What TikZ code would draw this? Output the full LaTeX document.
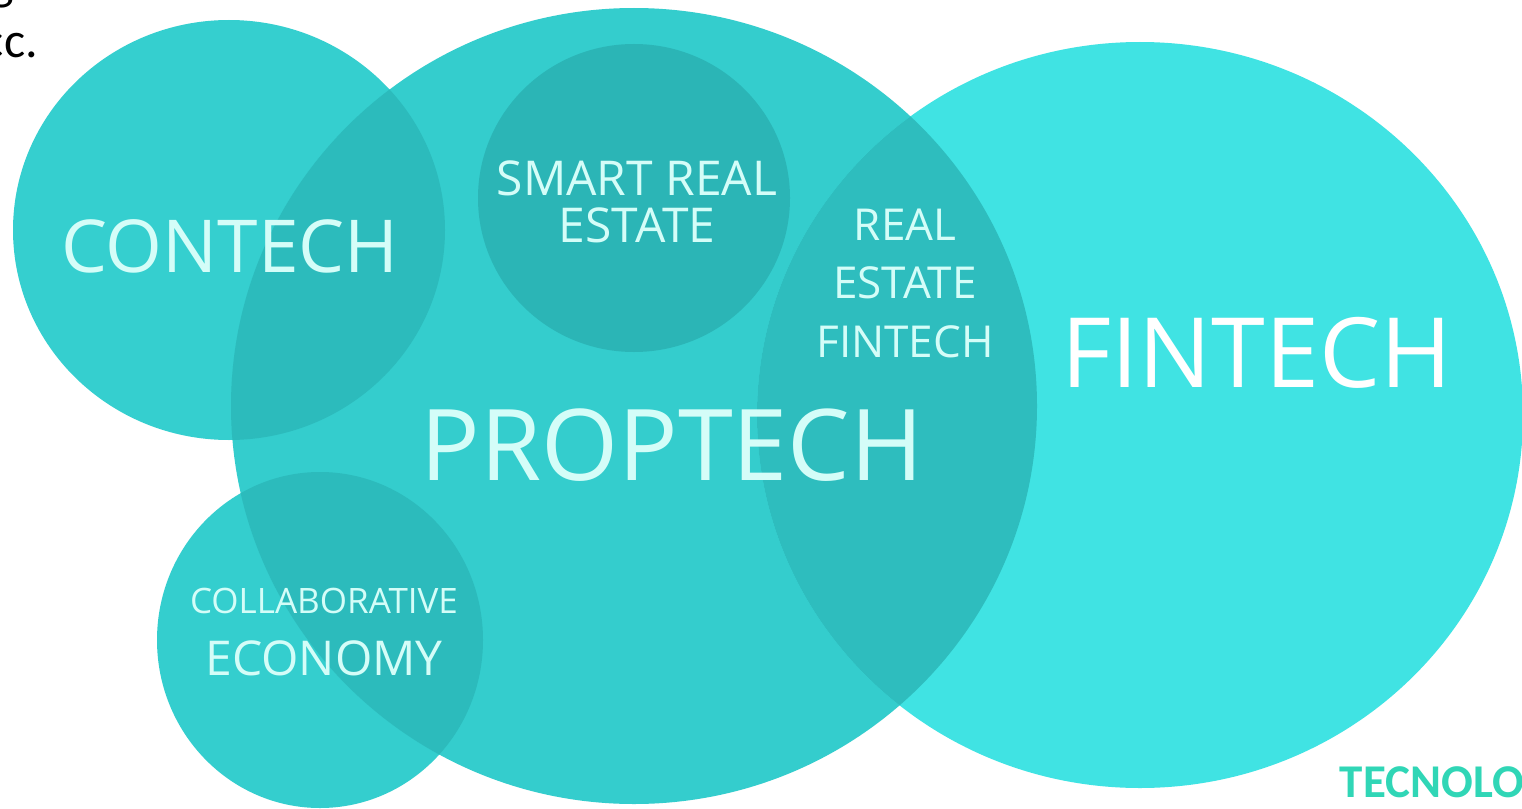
\documentclass[tikz,border=0pt]{standalone}
\usepackage{fontspec}
\setmainfont{Open Sans}
\newfontfamily\calibfont{Carlito}
\definecolor{contechc}{HTML}{35CFCF}
\definecolor{propc}{HTML}{34CDCD}
\definecolor{collabc}{HTML}{34CECE}
\definecolor{finc}{HTML}{40E3E3}
\definecolor{overc}{HTML}{2CBBBC}
\definecolor{overf}{HTML}{2EBDBE}
\definecolor{smartc}{HTML}{2BB5B6}
\definecolor{labelc}{HTML}{D4FDF8}
\definecolor{tecc}{HTML}{30D6B6}
\tikzset{
  lbl/.style={text=labelc, inner sep=0pt, anchor=base},
  blacktxt/.style={text=black, inner sep=0pt, anchor=base east, font=\calibfont\fontsize{50}{60}\selectfont}
}
\begin{document}
\begin{tikzpicture}[x=1pt,y=-1pt]
\useasboundingbox (0,0) rectangle (1522,808);
\fill[white] (0,0) rectangle (1522,808);
% base circles
\fill[contechc] (229,230) ellipse [x radius=216, y radius=210];
\fill[collabc] (320,640) ellipse [x radius=163, y radius=168];
\fill[propc] (634,406) ellipse [x radius=403, y radius=398];
\fill[finc] (1140,415) ellipse [x radius=383, y radius=373];
% overlaps
\begin{scope}
  \clip (634,406) ellipse [x radius=403, y radius=398];
  \fill[overc] (229,230) ellipse [x radius=216, y radius=210];
  \fill[overc] (320,640) ellipse [x radius=163, y radius=168];
  \fill[overf] (1140,415) ellipse [x radius=383, y radius=373];
\end{scope}
\fill[smartc] (634,198) ellipse [x radius=156, y radius=154];
% labels
\node[lbl, font=\fontsize{73}{80}\selectfont] (contech) at (230,272) {CONTECH};
\node[lbl, font=\fontsize{48}{52}\selectfont] (smart1) at (637,195) {SMART REAL};
\node[lbl, font=\fontsize{48}{52}\selectfont] (smart2) at (637,242) {ESTATE};
\node[lbl, font=\fontsize{44}{48}\selectfont] (ref1) at (905,240) {REAL};
\node[lbl, font=\fontsize{44}{48}\selectfont] (ref2) at (905,298) {ESTATE};
\node[lbl, font=\fontsize{44}{48}\selectfont] (ref3) at (905,357) {FINTECH};
\node[lbl, text=white, font=\fontsize{97}{100}\selectfont] (fintech) at (1257,387) {FINTECH};
\node[lbl, font=\fontsize{99}{104}\selectfont] (proptech) at (672,480) {PROPTECH};
\node[lbl, font=\fontsize{35}{40}\selectfont] (collab1) at (324,613) {COLLABORATIVE};
\node[lbl, font=\fontsize{48}{52}\selectfont] (collab2) at (324,675) {ECONOMY};
% partial page text
\node[blacktxt] (gtxt) at (14,0) {g};
\node[blacktxt] (cctxt) at (38,58) {cc.};
\node[inner sep=0pt, anchor=base east, text=tecc, font=\calibfont\bfseries\fontsize{47}{52}\selectfont] (tec) at (1524,797) {TECNOLO};
\end{tikzpicture}
\end{document}
